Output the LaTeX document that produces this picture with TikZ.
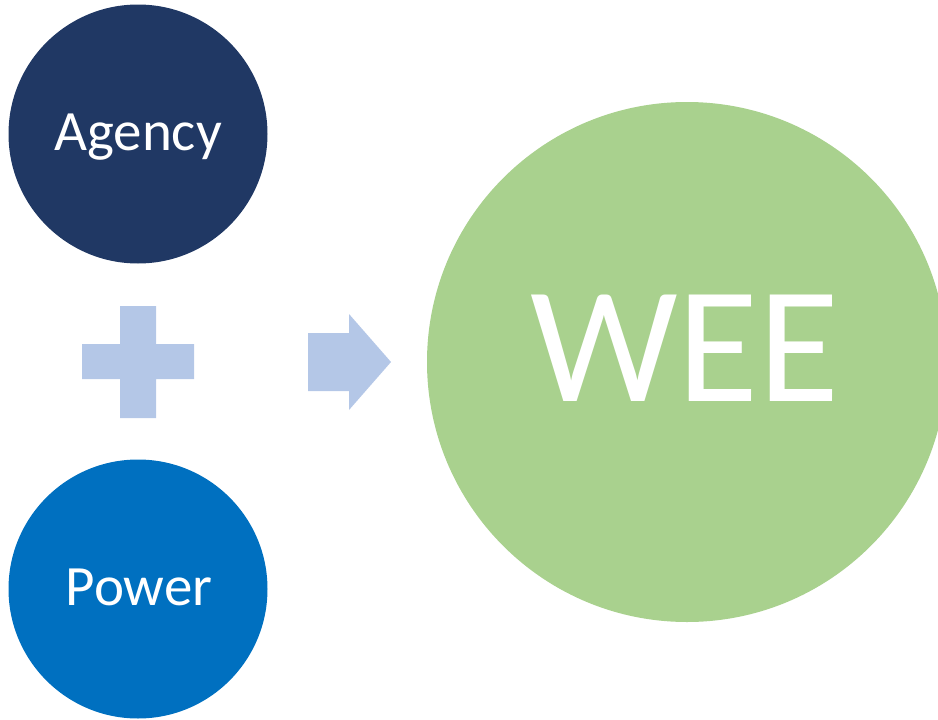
\documentclass[tikz,border=0pt]{standalone}
\usepackage{fontspec}
\setmainfont{Carlito}
\definecolor{agencyc}{HTML}{203864}
\definecolor{powerc}{HTML}{0070C0}
\definecolor{weec}{HTML}{A9D18E}
\definecolor{symc}{HTML}{B4C7E7}
\begin{document}
\begin{tikzpicture}[x=1pt,y=-1pt,
  bubble/.style={circle,inner sep=0pt,draw=none},
  lbl/.style={text=white,inner sep=0pt,anchor=base}]
\useasboundingbox (0,0) rectangle (938,720);
\clip (0,0) rectangle (938,720);
% circles
\node[bubble,fill=agencyc,minimum size=259pt] (agency) at (138,134) {};
\node[bubble,fill=powerc,minimum size=259pt] (power) at (138,589) {};
\node[bubble,fill=weec,minimum size=520pt] (wee) at (687,362) {};
% labels
\node[lbl,font=\fontsize{57}{60}\selectfont] (agencyt) at (138,150) {Agency};
\node[lbl,font=\fontsize{57}{60}\selectfont] (powert) at (139,605) {Power};
\node[lbl,font=\fontsize{166}{170}\selectfont] (weet) at (685,401) {WEE};
% plus sign
\fill[symc] (120,306) -- (156,306) -- (156,344) -- (194,344) -- (194,379)
  -- (156,379) -- (156,418) -- (120,418) -- (120,379) -- (82,379)
  -- (82,344) -- (120,344) -- cycle;
% arrow
\fill[symc] (308,333) -- (349,333) -- (349,314) -- (391,362) -- (349,410)
  -- (349,391) -- (308,391) -- cycle;
\end{tikzpicture}
\end{document}
